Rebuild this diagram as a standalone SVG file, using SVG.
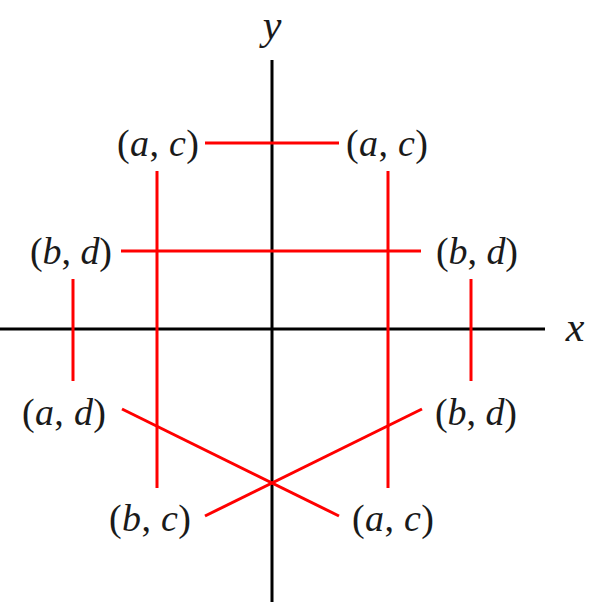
<svg xmlns="http://www.w3.org/2000/svg" width="592" height="612" viewBox="0 0 592 612">
<style>
.ax{stroke:#000;stroke-width:3;fill:none}
.r{stroke:#ff0000;stroke-width:3;fill:none}
.lb{font-family:"Liberation Serif","DejaVu Serif",serif;font-size:38px;fill:#1a1a1a;text-anchor:middle}
.big{font-size:42px}
.i{font-style:italic}
</style>
<rect width="592" height="612" fill="#fff"/>
<g id="axes">
<line class="ax" x1="0" y1="329" x2="545" y2="329"/>
<line class="ax" x1="272" y1="60" x2="272" y2="602"/>
<text class="lb big i" x="575" y="341">x</text>
<text class="lb big i" x="272" y="39">y</text>
</g>
<g id="connectors">
<line class="r" x1="205" y1="143" x2="339" y2="143"/>
<line class="r" x1="157" y1="171" x2="157" y2="488"/>
<line class="r" x1="388" y1="171" x2="388" y2="488"/>
<line class="r" x1="121" y1="251" x2="421" y2="251"/>
<line class="r" x1="73" y1="279" x2="73" y2="381"/>
<line class="r" x1="471" y1="279" x2="471" y2="381"/>
<line class="r" x1="122" y1="409" x2="339" y2="516"/>
<line class="r" x1="205" y1="516" x2="422" y2="409"/>
</g>
<g id="n-ac-tl"><text class="lb" x="158" y="156" textLength="82" lengthAdjust="spacing">(<tspan class="i">a</tspan>, <tspan class="i">c</tspan>)</text></g>
<g id="n-ac-tr"><text class="lb" x="387" y="156" textLength="82" lengthAdjust="spacing">(<tspan class="i">a</tspan>, <tspan class="i">c</tspan>)</text></g>
<g id="n-bd-l"><text class="lb" x="71" y="264" textLength="82" lengthAdjust="spacing">(<tspan class="i">b</tspan>, <tspan class="i">d</tspan>)</text></g>
<g id="n-bd-r"><text class="lb" x="477" y="264" textLength="82" lengthAdjust="spacing">(<tspan class="i">b</tspan>, <tspan class="i">d</tspan>)</text></g>
<g id="n-ad-l"><text class="lb" x="64" y="425" textLength="84" lengthAdjust="spacing">(<tspan class="i">a</tspan>, <tspan class="i">d</tspan>)</text></g>
<g id="n-bd-lr"><text class="lb" x="476" y="425" textLength="82" lengthAdjust="spacing">(<tspan class="i">b</tspan>, <tspan class="i">d</tspan>)</text></g>
<g id="n-bc"><text class="lb" x="150" y="531" textLength="82" lengthAdjust="spacing">(<tspan class="i">b</tspan>, <tspan class="i">c</tspan>)</text></g>
<g id="n-ac-b"><text class="lb" x="393" y="531" textLength="82" lengthAdjust="spacing">(<tspan class="i">a</tspan>, <tspan class="i">c</tspan>)</text></g>
</svg>
